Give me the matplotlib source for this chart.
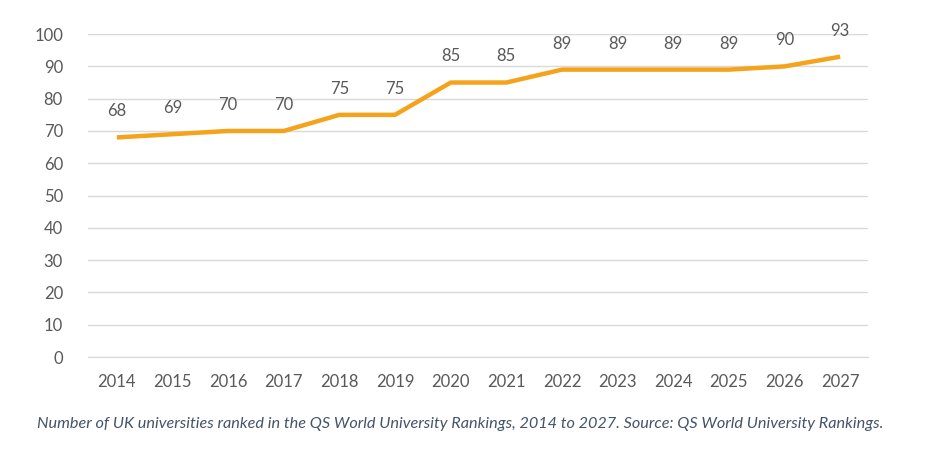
import matplotlib.pyplot as plt

years = list(range(2014, 2028))
counts = [68, 69, 70, 70, 75, 75, 85, 85, 89, 89, 89, 89, 90, 93]
yticks = list(range(0, 101, 10))

plt.rcParams['font.family'] = ['Lato', 'DejaVu Sans']

fig = plt.figure(figsize=(9.29, 4.51), dpi=100)
ax = fig.add_axes([0.0947, 0.2084, 0.8396, 0.716])

ax.plot(years, counts, color='#F5A31A', lw=3.2, solid_capstyle='butt', zorder=3)
for x, y in zip(years, counts):
    ax.annotate(str(y), (x, y), xytext=(0, 13), textcoords='offset points',
                ha='center', va='bottom', fontsize=12, color='#595959')

ax.set_xlim(2013.48, 2027.5)
ax.set_ylim(0, 100)
ax.set_yticks(yticks)
ax.set_xticks(years)
ax.grid(axis='y', color='#D9D9D9', lw=1)
ax.set_axisbelow(True)
for s in ax.spines.values():
    s.set_visible(False)
ax.spines['bottom'].set_visible(True)
ax.spines['bottom'].set_color('#D9D9D9')
ax.tick_params(length=0, labelsize=12, labelcolor='#595959')
ax.tick_params(axis='x', pad=12)
ax.tick_params(axis='y', pad=18)

fig.text(0.04, 0.05, 'Number of UK universities ranked in the QS World University Rankings, '
         '2014 to 2027. Source: QS World University Rankings.',
         fontsize=11.7, style='italic', color='#44546A')

fig.savefig('out.png', dpi=100)
